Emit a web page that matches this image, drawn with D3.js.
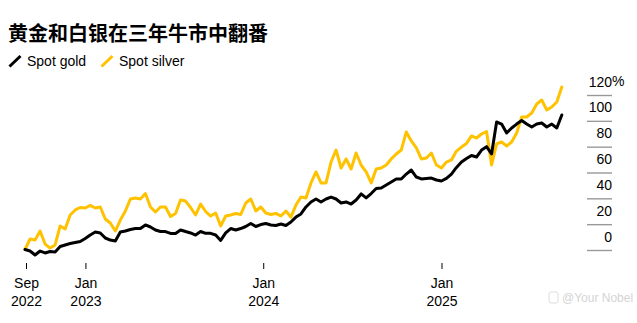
<!DOCTYPE html>
<html><head><meta charset="utf-8">
<script src="https://cdn.jsdelivr.net/npm/d3@7"></script>
<style>body{margin:0;background:#fff}svg{display:block}</style>
</head><body>
<svg id="c" width="637" height="323"></svg>
<script>
const title = "黄金和白银在三年牛市中翻番";
const seriesNames = ["Spot gold", "Spot silver"];
const seriesColors = ["#000000", "#ffc200"];
const startDate = "2022-08-30";
const endDate = "2025-09-05";
const gold = [0.4,-0.8,-3.9,-0.8,-2.3,-1.2,-1.5,2.7,3.9,5.0,5.8,6.6,8.9,11.6,13.9,13.2,9.3,7.7,7.0,13.9,
14.7,15.9,16.6,16.6,19.4,17.8,15.5,14.3,14.3,12.8,12.8,15.5,14.3,13.2,11.6,14.3,12.9,12.9,11.6,7.4,
13.2,16.6,15.5,16.6,18.2,20.5,18.2,19.7,20.5,19.4,19.0,20.1,19.0,21.7,25.5,27.9,33.3,37.2,39.5,37.2,
39.5,41.0,39.5,36.4,37.2,35.6,38.7,43.4,40.3,43.7,47.6,48.0,50.3,52.6,55.0,55.0,58.8,61.9,56.5,55.0,
55.4,55.7,54.2,53.4,55.4,58.8,63.9,68.1,70.8,73.2,72.0,77.4,80.0,74.3,99.1,97.5,90.6,94.5,97.5,100.3,
97.5,95.2,97.5,98.3,95.2,97.5,94.5,104.5];
const silver = [0.4,8.5,7.7,14.7,4.6,1.5,3.9,18.6,16.3,27.1,31.0,32.9,32.5,34.5,32.5,33.3,24.0,20.9,14.7,23.2,
30.2,39.5,40.3,39.5,43.7,33.3,29.4,33.3,33.3,25.9,28.3,38.7,37.9,32.9,27.1,35.6,29.8,26.3,28.6,18.6,
26.3,27.1,28.3,27.5,36.4,39.5,30.2,33.3,28.6,27.5,28.3,26.3,30.2,25.5,34.8,41.0,40.3,51.9,60.4,51.9,
51.9,68.1,77.4,63.5,70.5,62.7,75.1,65.8,60.4,51.9,62.7,63.5,65.8,70.5,74.3,77.4,91.4,84.4,79.0,70.5,
71.2,75.1,65.8,63.5,68.1,69.7,76.6,79.7,82.5,88.3,86.7,89.8,91.7,65.8,82.1,83.6,80.5,83.6,90.6,103.0,
103.0,106.1,113.0,116.1,108.4,110.7,114.6,126.2];
const yTicks = [0, 20, 40, 60, 80, 100, 120];
const xTickDates = ["2022-09-01", "2023-01-01", "2024-01-01", "2025-01-01"];
const xTickMonths = ["Sep", "Jan", "Jan", "Jan"];
const xTickYears = ["2022", "2023", "2024", "2025"];
const watermark = "@Your Nobel";

const parse = d3.timeParse("%Y-%m-%d");
const svg = d3.select("#c");
const FONT = "'Liberation Sans', Arial, Helvetica, sans-serif";

const x = d3.scaleTime().domain([parse("2022-09-01"), parse("2025-01-01")]).range([26, 441.5]);
const y = d3.scaleLinear().domain([0, 120]).range([250, 95]);

const t0 = parse(startDate), t1 = parse(endDate);
const n = gold.length;
const dates = d3.range(n).map(i => new Date(+t0 + (t1 - t0) * i / (n - 1)));

// title
svg.append("text").attr("x", 8).attr("y", 41)
  .attr("font-family", "'Noto Sans CJK SC', sans-serif").attr("font-weight", 700)
  .attr("font-size", 20).attr("fill", "#000").text(title);

// legend
const legX = [9.5, 101.5];
seriesNames.forEach((s, i) => {
  svg.append("line").attr("x1", legX[i]).attr("y1", 66.5).attr("x2", legX[i] + 11).attr("y2", 56)
    .attr("stroke", seriesColors[i]).attr("stroke-width", 3);
  svg.append("text").attr("x", legX[i] + 17.5).attr("y", 65.5).attr("font-family", FONT)
    .attr("font-size", 14).attr("fill", "#000").text(s);
});

// right axis
const ya = svg.append("g").attr("transform", "translate(587,0)")
  .call(d3.axisRight(y).tickValues(yTicks).tickSize(25).tickFormat(d => d));
ya.select(".domain").remove();
ya.selectAll(".tick line").attr("stroke", "#999").attr("stroke-width", 1.4);
ya.selectAll(".tick text").attr("x", 25).attr("y", -9).attr("dy", null)
  .attr("text-anchor", "end").attr("font-family", FONT).attr("font-size", 14).attr("fill", "#000");
svg.append("text").attr("x", 612).attr("y", y(120) - 9).attr("font-family", FONT)
  .attr("font-size", 14).attr("fill", "#000").text("%");

// bottom axis
const xd = xTickDates.map(parse);
const xa = svg.append("g").attr("transform", "translate(0,263)")
  .call(d3.axisBottom(x).tickValues(xd).tickSize(6));
xa.select(".domain").remove();
xa.selectAll(".tick line").attr("stroke", "#000").attr("stroke-width", 1);
xa.selectAll(".tick text").remove();
xa.selectAll(".tick").each(function(d, i) {
  const t = d3.select(this).append("text").attr("text-anchor", "middle")
    .attr("font-family", FONT).attr("font-size", 14).attr("fill", "#000");
  t.append("tspan").attr("x", 0).attr("y", 25).text(xTickMonths[i]);
  t.append("tspan").attr("x", 0).attr("y", 43).text(xTickYears[i]);
});

// lines
const line = d3.line().x((d, i) => x(dates[i])).y(d => y(d)).curve(d3.curveLinear);
[silver, gold].forEach((s, k) => {
  svg.append("path").datum(s).attr("d", line).attr("fill", "none")
    .attr("stroke", k === 0 ? seriesColors[1] : seriesColors[0])
    .attr("stroke-width", 3).attr("stroke-linejoin", "round").attr("stroke-linecap", "round");
});

// watermark
svg.append("rect").attr("x", 549).attr("y", 292).attr("width", 9).attr("height", 11).attr("rx", 2)
  .attr("fill", "none").attr("stroke", "#ddd").attr("stroke-width", 1);
svg.append("text").attr("x", 562).attr("y", 302).attr("font-family", FONT)
  .attr("font-size", 12).attr("fill", "#d4d4d4").text(watermark);
</script>
</body></html>
